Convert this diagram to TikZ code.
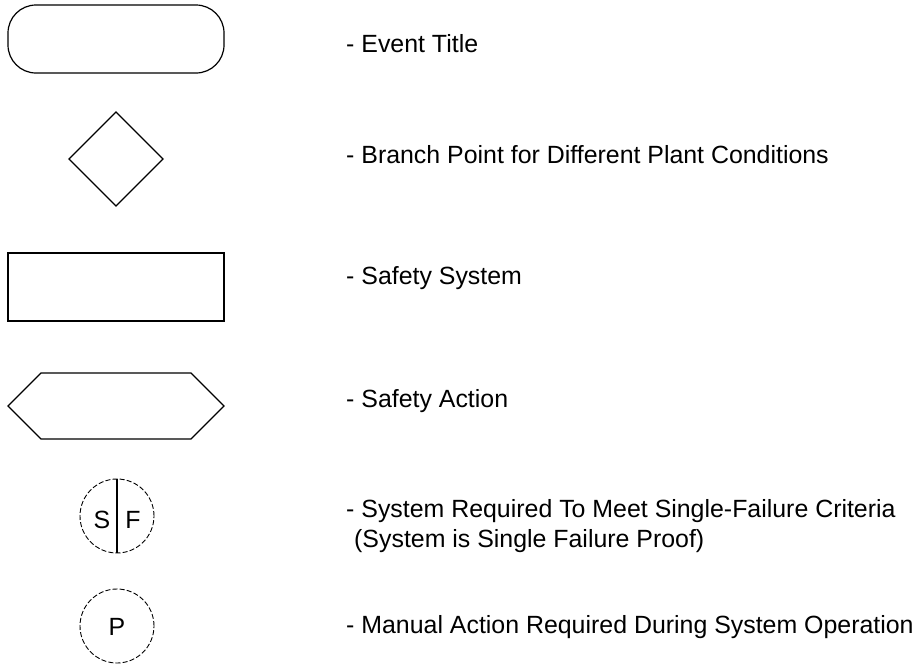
\documentclass[tikz,border=0pt]{standalone}
\usepackage{fontspec}
\setmainfont{Liberation Sans}
\usetikzlibrary{shapes.geometric,shapes.symbols}
\begin{document}
\begin{tikzpicture}[x=1pt,y=-1pt,
  shp/.style={draw=black,line width=1.2pt,inner sep=0pt,outer sep=0pt},
  lbl/.style={anchor=base west,inner sep=0pt,font=\fontsize{24.9}{30}\selectfont},
  sym/.style={anchor=base,inner sep=0pt,font=\fontsize{24.9}{30}\selectfont},
  dcirc/.style={circle,draw=black,line width=0.9pt,dash pattern=on 5pt off 2.2pt,minimum size=74pt,inner sep=0pt}]
\path[use as bounding box] (0,0) rectangle (923,665);
% Event title
\node[shp,rectangle,rounded corners=28pt,minimum width=216pt,minimum height=68pt] (ev) at (116,39) {};
\node[lbl] (evt) at (346,52) {- Event Title};
% Branch point
\node[shp,diamond,minimum width=94pt,minimum height=94pt] (br) at (116,159) {};
\node[lbl] (brt) at (346,163) {- Branch Point for Different Plant Conditions};
% Safety system
\node[shp,rectangle,minimum width=216pt,minimum height=68pt] (ss) at (116,287) {};
\node[lbl] (sst) at (346,284) {- Safety System};
% Safety action
\node[shp,signal,signal to=west and east,signal pointer angle=90,minimum width=216pt,minimum height=66pt] (sa) at (116,406) {};
\node[lbl] (sat) at (346,407) {- Safety Action};
% Single failure
\node[dcirc] (sf) at (117,516) {};
\draw[line width=1.2pt] (sf.north) -- (sf.south);
\node[sym] (s) at (102,528) {S};
\node[sym] (f) at (133,528) {F};
\node[lbl] (sft1) at (346,517) {- System Required To Meet Single-Failure Criteria};
\node[lbl] (sft2) at (354,547) {(System is Single Failure Proof)};
% Manual action
\node[dcirc] (p) at (117,626) {};
\node[sym] (pl) at (117,635) {P};
\node[lbl] (pt) at (346,633) {- Manual Action Required During System Operation};
\end{tikzpicture}
\end{document}
